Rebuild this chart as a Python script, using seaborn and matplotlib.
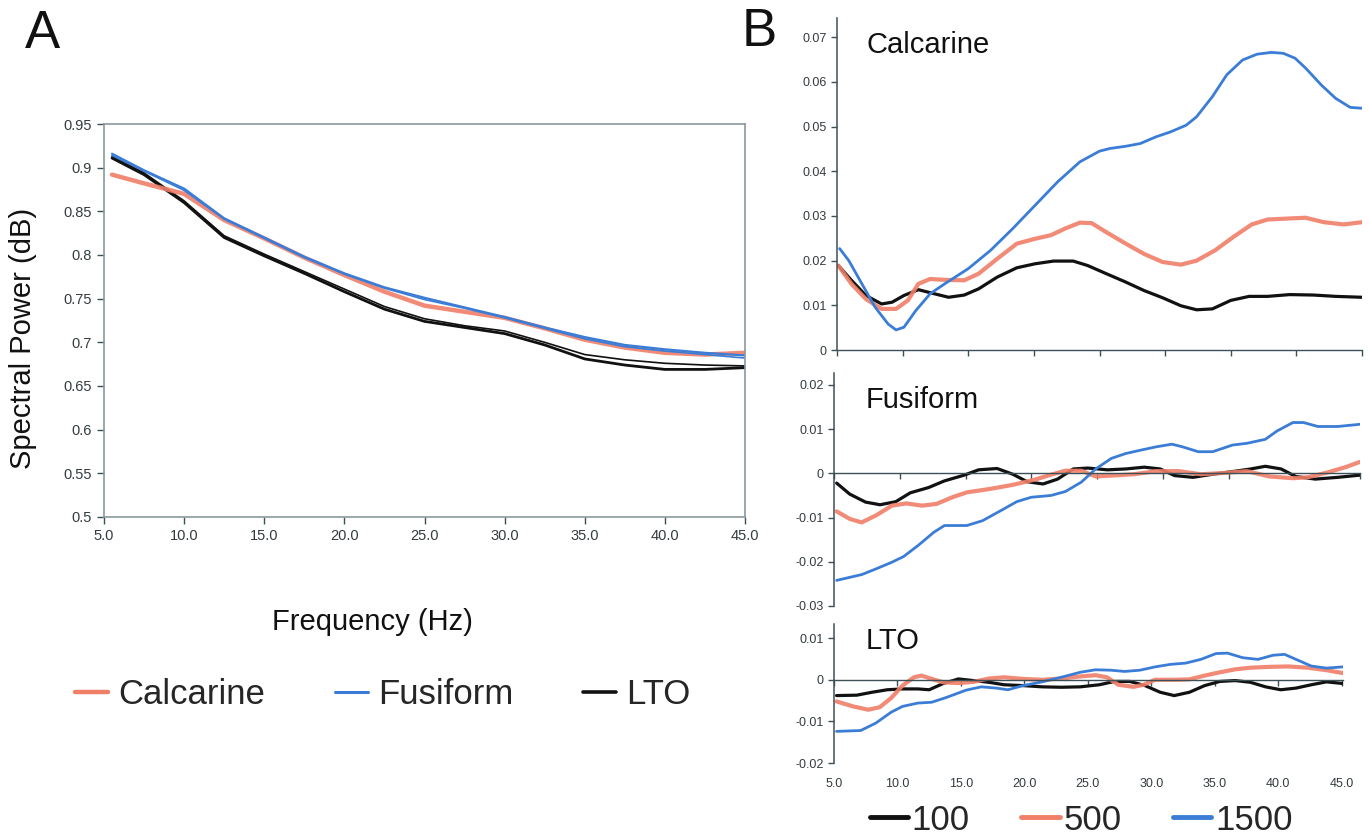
import matplotlib
matplotlib.use("Agg")
import matplotlib.pyplot as plt
import seaborn as sns
import numpy as np
import pandas as pd
from matplotlib.lines import Line2D
from matplotlib.ticker import FuncFormatter

# ---------------- data: panel A ----------------
A_freq = [5.5, 7.5, 10, 12.5, 15, 17.5, 20, 22.5, 25, 27.5, 30, 32.5, 35, 37.5, 40, 42.5, 45]
calc_A = [0.892, 0.882, 0.870, 0.840, 0.819, 0.797, 0.777, 0.758, 0.742, 0.735, 0.728, 0.716, 0.703, 0.694, 0.688, 0.686, 0.688]
fus_A1 = [0.916, 0.897, 0.876, 0.842, 0.820, 0.798, 0.779, 0.763, 0.751, 0.740, 0.729, 0.717, 0.706, 0.697, 0.692, 0.688, 0.685]
fus_A2 = [0.914, 0.896, 0.874, 0.841, 0.819, 0.797, 0.778, 0.762, 0.749, 0.739, 0.728, 0.716, 0.704, 0.695, 0.690, 0.686, 0.682]
lto_A1 = [0.911, 0.892, 0.860, 0.820, 0.799, 0.779, 0.758, 0.738, 0.724, 0.717, 0.710, 0.697, 0.681, 0.674, 0.669, 0.669, 0.671]
lto_A2 = [0.913, 0.894, 0.862, 0.822, 0.801, 0.781, 0.761, 0.741, 0.727, 0.719, 0.713, 0.700, 0.686, 0.680, 0.676, 0.674, 0.673]
A_regions = ["Calcarine", "Fusiform", "LTO"]
A_xticks = [5, 10, 15, 20, 25, 30, 35, 40, 45]
A_yticks = [0.5, 0.55, 0.6, 0.65, 0.7, 0.75, 0.8, 0.85, 0.9, 0.95]

# ---------------- data: panel B, Calcarine ----------------
calc_f1500 = [5.2, 5.9, 6.9, 7.9, 8.9, 9.5, 10.1, 11.0, 12.1, 13.2, 15.0, 16.7, 18.4, 20.1, 21.8, 23.5, 25.0, 25.8,
              27.0, 28.1, 29.3, 30.4, 31.6, 32.4, 33.6, 34.7, 35.9, 37.0, 38.1, 39.0, 39.9, 40.7, 41.9, 43.0, 44.1, 45.0]
calc_v1500 = [.0227, .0200, .0148, .0096, .0058, .0045, .0051, .0088, .0126, .0148, .0182, .0223, .0272, .0324, .0376,
              .0421, .0445, .0451, .0456, .0462, .0477, .0488, .0503, .0522, .0567, .0616, .0649, .0662, .0666, .0664,
              .0653, .0631, .0593, .0563, .0543, .0541]
calc_f500 = [5.1, 6.1, 7.2, 8.4, 9.5, 10.4, 11.2, 12.1, 13.2, 14.7, 15.8, 17.2, 18.7, 20.1, 21.3, 22.4, 23.5, 24.4,
             25.5, 27.0, 28.4, 29.8, 31.2, 32.4, 33.8, 35.2, 36.6, 37.8, 39.2, 40.7, 42.1, 43.6, 45.0]
calc_v500 = [.0189, .0148, .0114, .0092, .0092, .0111, .0148, .0159, .0157, .0156, .0171, .0204, .0238, .0249, .0257,
             .0272, .0285, .0284, .0264, .0238, .0215, .0197, .0191, .0200, .0223, .0253, .0281, .0292, .0294, .0296,
             .0286, .0281, .0286]
calc_f100 = [5.1, 6.1, 7.2, 8.4, 9.2, 10.1, 11.2, 12.4, 13.5, 14.7, 15.8, 17.2, 18.7, 20.1, 21.5, 23.0, 24.1, 25.5,
             27.0, 28.4, 29.8, 31.2, 32.4, 33.6, 35.0, 36.4, 37.8, 39.5, 41.3, 43.0, 45.0]
calc_v100 = [.0189, .0156, .0122, .0103, .0107, .0122, .0135, .0126, .0118, .0123, .0137, .0163, .0184, .0193, .0199,
             .0199, .0189, .0171, .0152, .0133, .0117, .0099, .0090, .0092, .0111, .0120, .0120, .0124, .0123, .0120,
             .0118]

# ---------------- data: panel B, Fusiform ----------------
fus_f1500 = [5.2, 7.1, 8.2, 9.4, 10.3, 11.4, 12.6, 13.4, 15.1, 16.3, 17.7, 18.9, 20.0, 21.5, 22.6, 23.8, 24.9, 26.1,
             27.2, 28.4, 29.5, 30.7, 31.5, 32.7, 33.8, 35.3, 36.4, 37.8, 38.7, 39.9, 40.7, 41.8, 43.3, 45.0]
fus_v1500 = [-.0242, -.0229, -.0216, -.0201, -.0188, -.0163, -.0133, -.0118, -.0118, -.0107, -.0084, -.0064, -.0054,
             -.0050, -.0041, -.0020, .0010, .0034, .0045, .0053, .0060, .0066, .0060, .0049, .0049, .0064, .0068,
             .0077, .0096, .0115, .0115, .0106, .0106, .0111]
fus_f500 = [5.2, 6.2, 7.1, 8.2, 9.4, 10.5, 11.7, 12.8, 14.0, 15.1, 16.9, 18.6, 20.3, 21.5, 22.6, 23.8, 24.9, 26.1,
            27.8, 29.5, 31.2, 32.9, 34.7, 36.4, 38.1, 39.9, 41.0, 42.4, 43.9, 45.0]
fus_v500 = [-.0086, -.0103, -.0111, -.0095, -.0073, -.0068, -.0073, -.0069, -.0054, -.0043, -.0035, -.0026, -.0014,
            -.0003, .0006, .0006, -.0007, -.0005, -.0002, .0005, .0005, -.0002, .0001, .0005, -.0007, -.0011, -.0009,
            .0001, .0014, .0026]
fus_f100 = [5.2, 6.2, 7.4, 8.5, 9.7, 10.8, 12.2, 13.4, 14.9, 16.0, 17.4, 18.6, 19.7, 20.9, 22.0, 23.2, 24.3, 25.8,
            27.2, 28.6, 29.8, 30.9, 32.3, 33.8, 35.3, 36.7, 37.8, 39.0, 40.1, 41.6, 43.3, 45.0]
fus_v100 = [-.0022, -.0047, -.0065, -.0071, -.0064, -.0044, -.0032, -.0017, -.0004, .0008, .0011, -.0002, -.0019,
            -.0024, -.0013, .0010, .0012, .0008, .0010, .0014, .0010, -.0005, -.0009, -.0002, .0004, .0010, .0016,
            .0010, -.0007, -.0013, -.0009, -.0004]

# ---------------- data: panel B, LTO ----------------
lto_f1500 = [5.2, 7.1, 8.3, 9.5, 10.4, 11.6, 12.7, 13.9, 15.4, 16.6, 17.8, 18.7, 19.9, 21.4, 22.9, 24.4, 25.6, 26.8,
             27.9, 29.1, 30.3, 31.5, 32.7, 33.9, 35.1, 36.0, 37.2, 38.4, 39.6, 40.5, 41.4, 42.6, 43.8, 45.1]
lto_v1500 = [-.0124, -.0122, -.0104, -.0078, -.0064, -.0056, -.0054, -.0042, -.0025, -.0017, -.0020, -.0024, -.0014,
             -.0005, .0006, .0018, .0024, .0023, .0020, .0023, .0031, .0037, .0040, .0049, .0063, .0064, .0053, .0049,
             .0059, .0061, .0049, .0033, .0028, .0031]
lto_f500 = [5.2, 6.5, 7.7, 8.6, 9.5, 10.4, 11.3, 11.9, 12.7, 13.6, 14.8, 16.0, 17.2, 18.4, 19.9, 21.4, 22.9, 24.4,
            25.6, 26.5, 27.4, 28.6, 29.4, 30.3, 31.8, 33.0, 34.2, 35.4, 36.6, 37.8, 39.3, 40.8, 42.3, 43.8, 45.1]
lto_v500 = [-.0052, -.0064, -.0072, -.0066, -.0044, -.0014, .0006, .0010, .0002, -.0006, -.0008, -.0005, .0003, .0006,
            .0002, .0000, .0003, .0008, .0011, .0006, -.0012, -.0017, -.0012, .0000, .0000, .0001, .0010, .0018,
            .0025, .0029, .0031, .0032, .0029, .0023, .0016]
lto_f100 = [5.2, 6.8, 8.0, 9.2, 10.4, 11.6, 12.5, 13.6, 14.8, 16.0, 17.2, 18.4, 19.9, 21.4, 22.9, 24.4, 25.9, 27.1,
            28.3, 29.5, 30.7, 31.8, 33.0, 34.2, 35.4, 36.6, 37.8, 39.0, 40.2, 41.4, 42.6, 43.8, 45.1]
lto_v100 = [-.0038, -.0037, -.0030, -.0024, -.0022, -.0022, -.0024, -.0009, .0002, -.0002, -.0006, -.0012, -.0014,
            -.0017, -.0018, -.0017, -.0012, -.0004, -.0004, -.0014, -.0030, -.0038, -.0030, -.0014, -.0004, -.0002,
            -.0006, -.0017, -.0024, -.0020, -.0012, -.0005, -.0009]

B_labels = ["100", "500", "1500"]
B_panels = ["Calcarine", "Fusiform", "LTO"]
B_xticks = [5, 10, 15, 20, 25, 30, 35, 40, 45]

# ---------------- style ----------------
sns.set_style("white")
plt.rcParams["font.family"] = ["Liberation Sans", "DejaVu Sans"]

C_OR = "#f07f68"
C_BL = "#3b7dd6"
C_BK = "#111111"
SPINE = "#3e5057"
TXT = "#333b3e"

W, H = 1369, 840
fig = plt.figure(figsize=(W / 100, H / 100), dpi=100)


def box(l, r, t, b):
    return [l / W, 1 - b / H, (r - l) / W, (b - t) / H]


gfmt = FuncFormatter(lambda v, p: "{:g}".format(round(v, 4)))

# ---------------- panel A ----------------
axA = fig.add_axes(box(104, 745, 124, 517))
sns.lineplot(x=A_freq, y=lto_A2, ax=axA, color=C_BK, linewidth=1.2)
sns.lineplot(x=A_freq, y=lto_A1, ax=axA, color=C_BK, linewidth=2.0)
sns.lineplot(x=A_freq, y=calc_A, ax=axA, color=C_OR, linewidth=3.2, alpha=0.9)
sns.lineplot(x=A_freq, y=fus_A2, ax=axA, color=C_BL, linewidth=1.2)
sns.lineplot(x=A_freq, y=fus_A1, ax=axA, color=C_BL, linewidth=1.6)
axA.set_xlim(5, 45)
axA.set_ylim(0.5, 0.95)
axA.set_xticks(A_xticks)
axA.set_xticklabels(["{:.1f}".format(v) for v in A_xticks])
axA.set_yticks(A_yticks)
axA.yaxis.set_major_formatter(gfmt)
for s in axA.spines.values():
    s.set_color("#8a989c")
    s.set_linewidth(1.2)
axA.tick_params(axis="both", direction="out", length=5, width=1, color=SPINE,
                labelsize=10.5, labelcolor=TXT, left=True, bottom=True)
axA.set_xlabel("")
axA.set_ylabel("")

fig.text(23 / W, 1 - 338 / H, "Spectral Power (dB)", rotation=90, ha="center", va="center",
         fontsize=21, color="#111")
fig.text(372 / W, 1 - 622 / H, "Frequency (Hz)", ha="center", va="center", fontsize=21, color="#111")
fig.text(42 / W, 1 - 34 / H, "A", ha="center", va="center", fontsize=38, color="#111")
fig.text(759 / W, 1 - 32 / H, "B", ha="center", va="center", fontsize=38, color="#111")

legA = [Line2D([], [], color=C_OR, lw=3.2), Line2D([], [], color=C_BL, lw=2.2), Line2D([], [], color=C_BK, lw=2.6)]
fig.legend(legA, A_regions, loc="center", bbox_to_anchor=(383 / W, 1 - 695 / H), ncol=3, frameon=False,
           fontsize=25, handlelength=0.95, handletextpad=0.3, columnspacing=2.0)

# ---------------- panel B ----------------
def style_b(ax, yl, yt, zero_mid, xlabels=False):
    ax.set_xlim(5, 45)
    ax.set_ylim(*yl)
    ax.set_yticks(yt)
    ax.yaxis.set_major_formatter(gfmt)
    ax.spines["top"].set_visible(False)
    ax.spines["right"].set_visible(False)
    ax.spines["left"].set_color(SPINE)
    ax.spines["bottom"].set_color(SPINE)
    ax.spines["left"].set_linewidth(1.1)
    ax.spines["bottom"].set_linewidth(1.0)
    if zero_mid:
        ax.spines["bottom"].set_position(("data", 0))
    ax.set_xticks(B_xticks)
    ax.tick_params(axis="both", direction="out", length=4, width=1, color=SPINE,
                   labelsize=9, labelcolor=TXT, left=True, bottom=True, labelbottom=False)
    ax.set_xlabel("")
    ax.set_ylabel("")
    if xlabels:
        sec = ax.secondary_xaxis(0.0)
        sec.set_xticks(B_xticks)
        sec.set_xticklabels(["{:.1f}".format(v) for v in B_xticks])
        sec.tick_params(length=0, labelsize=9, labelcolor=TXT, pad=11)
        sec.spines["bottom"].set_visible(False)


def draw_b(ax, f100, v100, f500, v500, f1500, v1500):
    sns.lineplot(x=f100, y=v100, ax=ax, color=C_BK, linewidth=2.3)
    sns.lineplot(x=f500, y=v500, ax=ax, color=C_OR, linewidth=3.0, alpha=0.9)
    sns.lineplot(x=f1500, y=v1500, ax=ax, color=C_BL, linewidth=2.0)


axC = fig.add_axes(box(837, 1362, 18, 350))
draw_b(axC, calc_f100, calc_v100, calc_f500, calc_v500, calc_f1500, calc_v1500)
style_b(axC, (0, 0.0743), [0, 0.01, 0.02, 0.03, 0.04, 0.05, 0.06, 0.07], False)
axC.text(866 / W, 1 - 45 / H, B_panels[0], transform=fig.transFigure, fontsize=21, va="center", ha="left", color="#111")

axF = fig.add_axes(box(834, 1360, 373, 606))
draw_b(axF, fus_f100, fus_v100, fus_f500, fus_v500, fus_f1500, fus_v1500)
style_b(axF, (-0.03, 0.0227), [-0.03, -0.02, -0.01, 0, 0.01, 0.02], True)
axF.text(866 / W, 1 - 400 / H, B_panels[1], transform=fig.transFigure, fontsize=21, va="center", ha="left", color="#111")

axL = fig.add_axes(box(834, 1343, 624, 763))
draw_b(axL, lto_f100, lto_v100, lto_f500, lto_v500, lto_f1500, lto_v1500)
style_b(axL, (-0.02, 0.0134), [-0.02, -0.01, 0, 0.01], True, xlabels=True)
axL.set_xlim(5, 45.1)
axL.text(866 / W, 1 - 641 / H, B_panels[2], transform=fig.transFigure, fontsize=21, va="center", ha="left", color="#111")

legB = [Line2D([], [], color=C_BK, lw=3.5), Line2D([], [], color=C_OR, lw=3.5), Line2D([], [], color=C_BL, lw=3.5)]
fig.legend(legB, B_labels, loc="center", bbox_to_anchor=(1081 / W, 1 - 820 / H), ncol=3, frameon=False,
           fontsize=25, handlelength=1.1, handletextpad=0.1, columnspacing=1.5)

fig.savefig("out.png", dpi=100)
